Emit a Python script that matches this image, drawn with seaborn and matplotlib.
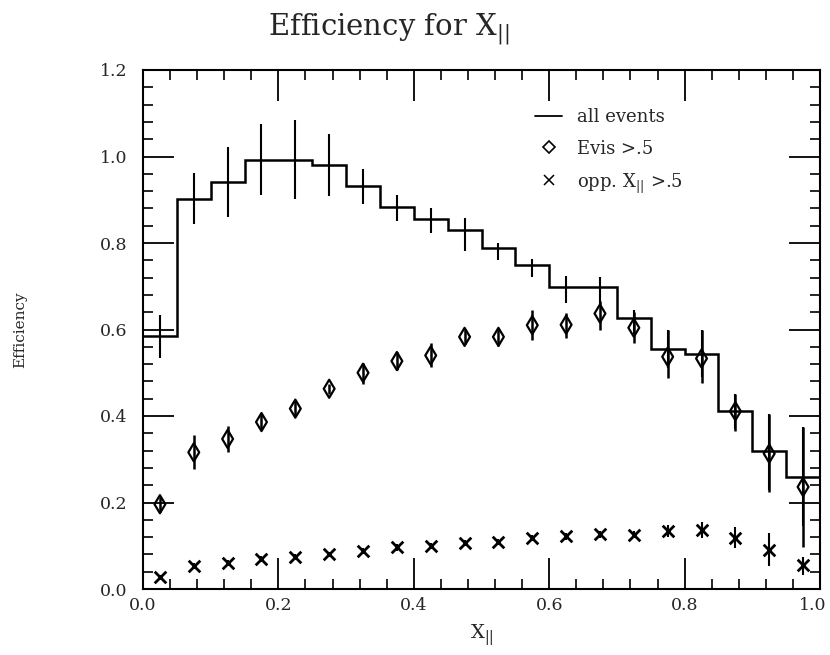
import numpy as np
import matplotlib
matplotlib.use("Agg")
import matplotlib.pyplot as plt
from matplotlib.lines import Line2D
from matplotlib.ticker import MultipleLocator, FormatStrFormatter
from matplotlib.transforms import ScaledTranslation
import seaborn as sns

# ---- data ----
bin_edges = [0.00, 0.05, 0.10, 0.15, 0.20, 0.25, 0.30, 0.35, 0.40, 0.45, 0.50,
             0.55, 0.60, 0.65, 0.70, 0.75, 0.80, 0.85, 0.90, 0.95, 1.00]
bin_centers = [0.025, 0.075, 0.125, 0.175, 0.225, 0.275, 0.325, 0.375, 0.425, 0.475,
               0.525, 0.575, 0.625, 0.675, 0.725, 0.775, 0.825, 0.875, 0.925, 0.975]

all_events = [0.585, 0.902, 0.942, 0.992, 0.992, 0.981, 0.932, 0.883, 0.856, 0.831,
              0.788, 0.750, 0.698, 0.698, 0.626, 0.554, 0.544, 0.412, 0.318, 0.260]
all_lo = [0.535, 0.843, 0.861, 0.912, 0.902, 0.908, 0.891, 0.850, 0.823, 0.781,
          0.761, 0.721, 0.661, 0.660, 0.590, 0.510, 0.490, 0.370, 0.230, 0.145]
all_hi = [0.633, 0.961, 1.023, 1.074, 1.085, 1.051, 0.972, 0.912, 0.881, 0.858,
          0.800, 0.764, 0.723, 0.721, 0.646, 0.598, 0.598, 0.452, 0.404, 0.375]

evis = [0.196, 0.316, 0.347, 0.386, 0.417, 0.463, 0.500, 0.527, 0.540, 0.583,
        0.583, 0.610, 0.611, 0.637, 0.604, 0.537, 0.533, 0.411, 0.313, 0.236]
evis_lo = [0.179, 0.277, 0.317, 0.367, 0.400, 0.452, 0.475, 0.506, 0.513, 0.567,
           0.561, 0.575, 0.581, 0.600, 0.569, 0.487, 0.476, 0.366, 0.225, 0.098]
evis_hi = [0.212, 0.356, 0.376, 0.406, 0.436, 0.475, 0.523, 0.548, 0.569, 0.602,
           0.604, 0.644, 0.638, 0.667, 0.640, 0.598, 0.598, 0.452, 0.404, 0.375]

opp = [0.027, 0.053, 0.061, 0.069, 0.075, 0.080, 0.088, 0.096, 0.099, 0.106,
       0.109, 0.118, 0.122, 0.127, 0.125, 0.134, 0.136, 0.117, 0.090, 0.055]
opp_lo = [0.022, 0.046, 0.054, 0.062, 0.069, 0.074, 0.081, 0.089, 0.092, 0.099,
          0.102, 0.111, 0.114, 0.119, 0.117, 0.121, 0.119, 0.094, 0.053, 0.032]
opp_hi = [0.032, 0.060, 0.068, 0.076, 0.081, 0.086, 0.095, 0.103, 0.106, 0.113,
          0.116, 0.125, 0.130, 0.135, 0.133, 0.147, 0.155, 0.144, 0.130, 0.075]

y_ticks = [0.0, 0.2, 0.4, 0.6, 0.8, 1.0, 1.2]
x_ticks = [0.0, 0.2, 0.4, 0.6, 0.8, 1.0]

title_text = r"Efficiency for X$_{||}$"
xlabel_text = r"X$_{||}$"
ylabel_text = "Efficiency"
legend_labels = ["all events", "Evis >.5", r"opp. X$_{||}$ >.5"]

# ---- style ----
sns.set_style("ticks")
plt.rcParams["font.family"] = ["DejaVu Serif"]
plt.rcParams["mathtext.fontset"] = "dejavuserif"

W, H = 830, 655
fig = plt.figure(figsize=(W / 100, H / 100), dpi=100)
x0, x1, yb, yt = 143, 820, 589, 70
ax = fig.add_axes([x0 / W, 1 - yb / H, (x1 - x0) / W, (yb - yt) / H])

centers = np.array(bin_centers)

# histogram (all events)
ax.stairs(all_events, bin_edges, baseline=None, color="black", lw=1.8)
ax.vlines(centers, all_lo, all_hi, color="black", lw=1.5)

# Evis > .5 (open diamonds)
ev = np.array(evis)
ax.errorbar(centers, ev, yerr=[ev - np.array(evis_lo), np.array(evis_hi) - ev],
            fmt="none", ecolor="black", elinewidth=1.8, capsize=0)
sns.scatterplot(x=centers, y=ev, marker="d", s=85, facecolors="none",
                edgecolor="black", linewidth=1.6, ax=ax, zorder=3)

# opp. X|| > .5 (crosses)
op = np.array(opp)
ax.errorbar(centers, op, yerr=[op - np.array(opp_lo), np.array(opp_hi) - op],
            fmt="none", ecolor="black", elinewidth=1.5, capsize=0)
sns.scatterplot(x=centers, y=op, marker="x", s=70, color="black",
                linewidth=2.0, ax=ax, zorder=3)

# axes
ax.set_xlim(0, 1.0)
ax.set_ylim(0, 1.2)
ax.set_xticks(x_ticks)
ax.set_yticks(y_ticks)
ax.xaxis.set_major_formatter(FormatStrFormatter("%.1f"))
ax.yaxis.set_major_formatter(FormatStrFormatter("%.1f"))
ax.xaxis.set_minor_locator(MultipleLocator(0.04))
ax.yaxis.set_minor_locator(MultipleLocator(0.04))
ax.tick_params(which="both", direction="in", top=True, right=True, color="black")
ax.tick_params(which="major", length=22, width=1.3, labelsize=12.5)
ax.tick_params(which="minor", length=7, width=1.2)
ax.tick_params(axis="x", which="major", pad=6)
ax.tick_params(axis="y", which="major", pad=11)
for s in ax.spines.values():
    s.set_linewidth(1.5)
    s.set_color("black")

# keep the last x tick label inside the figure
fig.canvas.draw()
last = ax.get_xticklabels()[-1]
last.set_transform(last.get_transform() + ScaledTranslation(-5 / 72, 0, fig.dpi_scale_trans))

ax.set_xlabel(xlabel_text, fontsize=14, labelpad=6)
fig.text(20 / W, 1 - 330 / H, ylabel_text, rotation=90, ha="center", va="center", fontsize=11)
fig.text(389 / W, 1 - 30 / H, title_text, ha="center", va="center", fontsize=21)

handles = [
    Line2D([], [], color="black", lw=1.3),
    Line2D([], [], color="black", marker="D", ls="none", mfc="none", ms=6, mew=1.2),
    Line2D([], [], color="black", marker="x", ls="none", ms=7, mew=1.1),
]
ax.legend(handles, legend_labels, loc="upper left",
          bbox_to_anchor=((535 - x0) / (x1 - x0), (yb - 108) / (yb - yt)),
          frameon=False, fontsize=13, handlelength=1.5, handletextpad=0.8,
          labelspacing=0.75, borderpad=0, borderaxespad=0)

fig.savefig("out.png", dpi=100)
